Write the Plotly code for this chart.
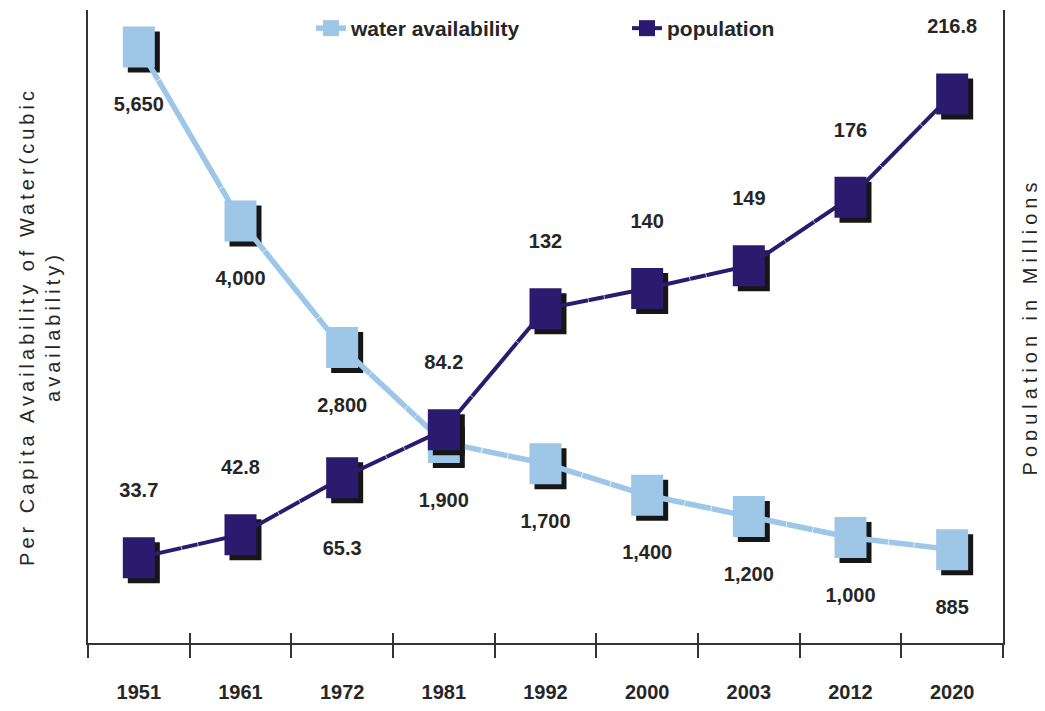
import plotly.graph_objects as go

# ---------------- data ----------------
years = ["1951", "1961", "1972", "1981", "1992", "2000", "2003", "2012", "2020"]
water = [5650, 4000, 2800, 1900, 1700, 1400, 1200, 1000, 885]
population = [33.7, 42.8, 65.3, 84.2, 132, 140, 149, 176, 216.8]
water_labels = [f"{v:,}" for v in water]
pop_labels = [f"{v:g}" for v in population]
pop_labels_below = ["1972"]

# ---------------- style ----------------
PAGE_OFF = 8                      # browser body margin
W, H = 1045 - PAGE_OFF, 711 - PAGE_OFF
ML, MR, MT, MB = 88 - PAGE_OFF, 42, 10 - PAGE_OFF, 68
plot_w = W - ML - MR
plot_h = H - MT - MB
WATER_RANGE = [0, 6000]
POP_RANGE = [0, 250]
SHADOW_PX = 5
n = len(years)
dx = SHADOW_PX * n / plot_w
dy_w = SHADOW_PX * (WATER_RANGE[1] - WATER_RANGE[0]) / plot_h
dy_p = SHADOW_PX * (POP_RANGE[1] - POP_RANGE[0]) / plot_h

LIGHT = "#9DC6E7"
DARK = "#2B1B6F"
SHADOW_C = "#161616"
TEXT_C = "#262626"
AXIS_C = "#333333"
FONT = "Liberation Sans, Arial, sans-serif"
LABEL_FS = 20

MARK_W, MARK_H = 32, 41
msize = MARK_H / 1.4  # line-ns symbol length is 1.4 * size


def rect_marker(color):
    return dict(symbol="line-ns", size=msize, color=color,
                line=dict(color=color, width=MARK_W))


def text_marker_size(offset_px, above):
    # size of an invisible marker that pushes a text label offset_px from the point
    if above:
        r = offset_px - 0.61 * LABEL_FS
    else:
        r = offset_px - 0.39 * LABEL_FS
    return 2 * (r - 1) * 0.8


WATER_LABEL_DY = 57
POP_LABEL_DY = 68
POP_BELOW_DY = 70
water_text_pos = ["bottom center"] * n
water_text_size = [text_marker_size(WATER_LABEL_DY, False)] * n
pop_text_pos = ["bottom center" if yr in pop_labels_below else "top center" for yr in years]
pop_text_size = [text_marker_size(POP_BELOW_DY, False) if yr in pop_labels_below
                 else text_marker_size(POP_LABEL_DY, True) for yr in years]

label_font = dict(family=FONT, size=LABEL_FS, color=TEXT_C, weight="bold")

fig = go.Figure()
# water shadow
fig.add_trace(go.Scatter(x=years, y=water, xaxis="x", yaxis="y", mode="markers",
                         marker=rect_marker(SHADOW_C), showlegend=False, hoverinfo="skip"))
# water main
fig.add_trace(go.Scatter(x=years, y=water, xaxis="x2", yaxis="y2", mode="lines+markers",
                         line=dict(color=LIGHT, width=5.5), marker=rect_marker(LIGHT),
                         showlegend=False, name="water availability"))
# water labels
fig.add_trace(go.Scatter(x=years, y=water, xaxis="x2", yaxis="y2", mode="markers+text",
                         text=water_labels, textposition=water_text_pos, textfont=label_font,
                         marker=dict(size=water_text_size, color="rgba(0,0,0,0)"),
                         showlegend=False, hoverinfo="skip", cliponaxis=False))
# population shadow
fig.add_trace(go.Scatter(x=years, y=population, xaxis="x3", yaxis="y3", mode="markers",
                         marker=rect_marker(SHADOW_C), showlegend=False, hoverinfo="skip"))
# population main
fig.add_trace(go.Scatter(x=years, y=population, xaxis="x4", yaxis="y4", mode="lines+markers",
                         line=dict(color=DARK, width=4), marker=rect_marker(DARK),
                         showlegend=False, name="population"))
# population labels
fig.add_trace(go.Scatter(x=years, y=population, xaxis="x4", yaxis="y4", mode="markers+text",
                         text=pop_labels, textposition=pop_text_pos, textfont=label_font,
                         marker=dict(size=pop_text_size, color="rgba(0,0,0,0)"),
                         showlegend=False, hoverinfo="skip", cliponaxis=False))
# legend entries
fig.add_trace(go.Scatter(x=[None], y=[None], xaxis="x2", yaxis="y2", mode="lines+markers",
                         name="water availability", line=dict(color=LIGHT, width=5.5),
                         marker=dict(symbol="square", size=16, color=LIGHT)))
fig.add_trace(go.Scatter(x=[None], y=[None], xaxis="x2", yaxis="y2", mode="lines+markers",
                         name="population", line=dict(color=DARK, width=4),
                         marker=dict(symbol="square", size=16, color=DARK)))

left_title = ('<span style="letter-spacing:4px">Per Capita Availability of Water(cubic</span><br>'
              '<span style="letter-spacing:4px">availability)</span>')
right_title = '<span style="letter-spacing:5px">Population in Millions</span>'

hidden = dict(visible=False, showgrid=False, zeroline=False)
cat = dict(type="category", categoryorder="array", categoryarray=years)

fig.update_layout(
    width=W, height=H,
    margin=dict(l=ML, r=MR, t=MT, b=MB, autoexpand=False),
    paper_bgcolor="white", plot_bgcolor="white",
    font=dict(family=FONT, color=TEXT_C),
    xaxis=dict(**hidden, **cat, range=[-0.5 - dx, n - 0.5 - dx], anchor="y"),
    yaxis=dict(**hidden, range=[WATER_RANGE[0] + dy_w, WATER_RANGE[1] + dy_w], anchor="x"),
    xaxis2=dict(**cat, overlaying="x", anchor="y2", range=[-0.5, n - 0.5],
                showline=True, linecolor=AXIS_C, linewidth=1.5,
                ticks="outside", tickson="boundaries", ticklen=13, tickwidth=1.5, tickcolor=AXIS_C,
                showgrid=False, zeroline=False, ticklabelstandoff=30,
                tickfont=dict(family=FONT, size=20, color=TEXT_C, weight="bold")),
    yaxis2=dict(overlaying="y", anchor="x2", side="left", range=WATER_RANGE,
                showline=True, linecolor=AXIS_C, linewidth=1.5, ticks="",
                showticklabels=False, showgrid=False, zeroline=False,
                title=dict(text=left_title, standoff=20,
                           font=dict(family=FONT, size=20, color=TEXT_C))),
    xaxis3=dict(**hidden, **cat, overlaying="x", anchor="y3", range=[-0.5 - dx, n - 0.5 - dx]),
    yaxis3=dict(**hidden, overlaying="y", anchor="x3",
                range=[POP_RANGE[0] + dy_p, POP_RANGE[1] + dy_p]),
    xaxis4=dict(**cat, overlaying="x", anchor="y4", range=[-0.5, n - 0.5],
                showline=False, ticks="inside", tickson="boundaries", ticklen=10, tickwidth=1.5,
                tickcolor=AXIS_C, showticklabels=False, showgrid=False, zeroline=False),
    yaxis4=dict(overlaying="y", anchor="x4", side="right", range=POP_RANGE,
                showline=True, linecolor=AXIS_C, linewidth=1.5, ticks="",
                showticklabels=False, showgrid=False, zeroline=False,
                title=dict(text=right_title, standoff=19,
                           font=dict(family=FONT, size=20, color=TEXT_C))),
    legend=dict(orientation="h", xref="container", yref="container",
                x=(311 - PAGE_OFF) / W, xanchor="left", y=1 - 0 / H, yanchor="top",
                entrywidth=271, entrywidthmode="pixels",
                font=dict(family=FONT, size=21, color=TEXT_C, weight="bold"),
                bgcolor="rgba(0,0,0,0)"),
    showlegend=True,
)

fig.write_html("out.html")
